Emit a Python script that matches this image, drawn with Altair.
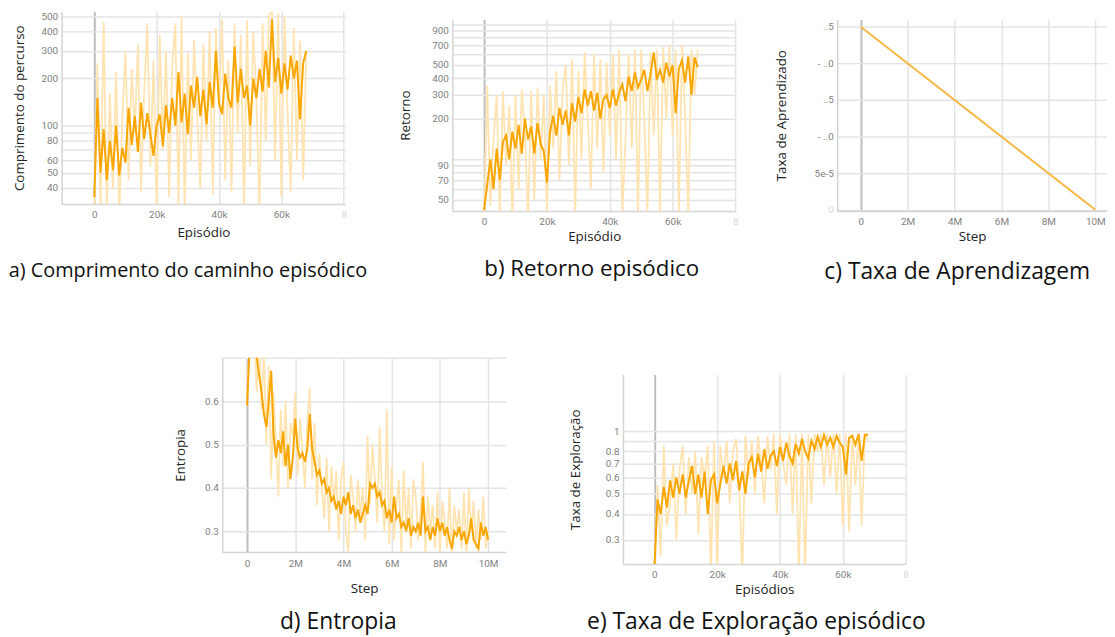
import altair as alt
import pandas as pd

# ---------------- data ----------------
EPISODES_K = [0, 1, 2, 3, 4, 5, 6, 7, 8, 9, 10, 11, 12, 13, 14, 15, 16, 17, 18, 19,
              20, 21, 22, 23, 24, 25, 26, 27, 28, 29, 30, 31, 32, 33, 34, 35, 36, 37, 38, 39,
              40, 41, 42, 43, 44, 45, 46, 47, 48, 49, 50, 51, 52, 53, 54, 55, 56, 57, 58, 59,
              60, 61, 62, 63, 64, 65, 66, 67, 68]

A_SMOOTH = [35, 150, 50, 95, 45, 80, 52, 100, 48, 72,
            58, 130, 75, 115, 68, 140, 82, 120, 88, 64,
            100, 118, 74, 135, 90, 150, 100, 220, 105, 160,
            88, 180, 130, 205, 115, 170, 102, 190, 130, 300,
            140, 118, 215, 150, 130, 320, 140, 230, 150, 180,
            100, 200, 150, 230, 165, 300, 175, 480, 190, 270,
            160, 250, 170, 280, 200, 260, 110, 250, 300]
A_RAW = [25, 250, 30, 460, 28, 160, 40, 220, 26, 110,
         300, 45, 230, 90, 330, 38, 160, 450, 55, 260,
         28, 380, 70, 300, 35, 240, 450, 30, 500, 28,
         290, 60, 350, 120, 40, 330, 80, 400, 36, 420,
         130, 480, 45, 260, 38, 450, 90, 380, 28, 470,
         55, 400, 150, 28, 450, 80, 500, 550, 60, 520,
         35, 500, 120, 38, 420, 60, 350, 45, 300]

B_SMOOTH = [42, 65, 100, 60, 120, 70, 135, 150, 100, 160,
            120, 180, 110, 200, 140, 175, 110, 185, 130, 115,
            67, 160, 210, 150, 240, 180, 230, 150, 260, 190,
            290, 220, 330, 250, 320, 230, 310, 200, 280, 300,
            240, 330, 250, 310, 360, 270, 410, 320, 440, 340,
            390, 460, 320, 430, 620, 390, 460, 370, 520, 410,
            500, 220, 470, 540, 370, 580, 300, 570, 480]
B_RAW = [35, 350, 45, 140, 300, 38, 320, 90, 250, 35,
         300, 60, 330, 150, 35, 320, 50, 340, 100, 300,
         38, 350, 120, 450, 70, 330, 500, 90, 550, 38,
         450, 100, 620, 200, 60, 600, 120, 550, 80, 520,
         150, 600, 100, 650, 38, 140, 600, 120, 650, 38,
         650, 200, 38, 620, 150, 650, 38, 680, 200, 700,
         150, 650, 38, 700, 200, 38, 650, 300, 650]

LR_STEP_M = [0, 10]
LR_VALUE = [0.00025, 0.0]

STEPS_M = [0.0, 0.1, 0.2, 0.3, 0.4, 0.5, 0.6, 0.7, 0.8, 0.9,
           1.0, 1.1, 1.2, 1.3, 1.4, 1.5, 1.6, 1.7, 1.8, 1.9,
           2.0, 2.1, 2.2, 2.3, 2.4, 2.5, 2.6, 2.7, 2.8, 2.9,
           3.0, 3.1, 3.2, 3.3, 3.4, 3.5, 3.6, 3.7, 3.8, 3.9,
           4.0, 4.1, 4.2, 4.3, 4.4, 4.5, 4.6, 4.7, 4.8, 4.9,
           5.0, 5.1, 5.2, 5.3, 5.4, 5.5, 5.6, 5.7, 5.8, 5.9,
           6.0, 6.1, 6.2, 6.3, 6.4, 6.5, 6.6, 6.7, 6.8, 6.9,
           7.0, 7.1, 7.2, 7.3, 7.4, 7.5, 7.6, 7.7, 7.8, 7.9,
           8.0, 8.1, 8.2, 8.3, 8.4, 8.5, 8.6, 8.7, 8.8, 8.9,
           9.0, 9.1, 9.2, 9.3, 9.4, 9.5, 9.6, 9.7, 9.8, 9.9,
           10.0]
D_SMOOTH = [0.59, 0.72, 0.75, 0.73, 0.70, 0.66, 0.62, 0.57, 0.54, 0.60,
            0.67, 0.52, 0.47, 0.51, 0.48, 0.53, 0.45, 0.50, 0.42, 0.47,
            0.56, 0.49, 0.47, 0.48, 0.46, 0.49, 0.57, 0.49, 0.46, 0.43,
            0.44, 0.41, 0.42, 0.39, 0.40, 0.37, 0.38, 0.35, 0.37, 0.34,
            0.38, 0.36, 0.39, 0.34, 0.36, 0.33, 0.35, 0.32, 0.34, 0.36,
            0.34, 0.41, 0.40, 0.41, 0.38, 0.39, 0.36, 0.37, 0.33, 0.35,
            0.32, 0.38, 0.33, 0.34, 0.31, 0.32, 0.30, 0.33, 0.29, 0.31,
            0.30, 0.32, 0.29, 0.38, 0.30, 0.31, 0.28, 0.31, 0.29, 0.33,
            0.30, 0.32, 0.29, 0.31, 0.28, 0.26, 0.30, 0.29, 0.31, 0.28,
            0.30, 0.27, 0.29, 0.33, 0.28, 0.27, 0.26, 0.32, 0.29, 0.31,
            0.28]
D_RAW = [0.60, 0.75, 0.72, 0.76, 0.62, 0.75, 0.58, 0.72, 0.50, 0.68,
         0.42, 0.62, 0.50, 0.38, 0.58, 0.45, 0.60, 0.40, 0.55, 0.52,
         0.62, 0.43, 0.56, 0.48, 0.40, 0.55, 0.63, 0.42, 0.55, 0.36,
         0.48, 0.40, 0.33, 0.47, 0.30, 0.45, 0.36, 0.44, 0.28, 0.42,
         0.46, 0.30, 0.25, 0.43, 0.38, 0.30, 0.42, 0.33, 0.40, 0.28,
         0.52, 0.36, 0.50, 0.42, 0.32, 0.54, 0.38, 0.30, 0.58, 0.27,
         0.45, 0.28, 0.36, 0.42, 0.25, 0.44, 0.30, 0.40, 0.26, 0.42,
         0.38, 0.28, 0.34, 0.46, 0.25, 0.38, 0.30, 0.36, 0.26, 0.39,
         0.25, 0.37, 0.32, 0.26, 0.40, 0.24, 0.36, 0.30, 0.35, 0.26,
         0.39, 0.24, 0.40, 0.30, 0.37, 0.26, 0.35, 0.28, 0.38, 0.26,
         0.30]

E_SMOOTH = [0.22, 0.47, 0.40, 0.54, 0.43, 0.58, 0.48, 0.60, 0.50, 0.62,
            0.48, 0.58, 0.68, 0.50, 0.62, 0.48, 0.64, 0.40, 0.58, 0.62,
            0.45, 0.56, 0.68, 0.56, 0.70, 0.58, 0.72, 0.52, 0.64, 0.50,
            0.70, 0.75, 0.60, 0.78, 0.64, 0.82, 0.66, 0.76, 0.80, 0.68,
            0.84, 0.72, 0.88, 0.76, 0.70, 0.87, 0.78, 0.92, 0.80, 0.74,
            0.90, 0.82, 0.94, 0.84, 0.96, 0.86, 0.93, 0.84, 0.95, 0.88,
            0.84, 0.62, 0.93, 0.95, 0.86, 0.97, 0.72, 0.96, 0.96]
E_RAW = [0.20, 0.55, 0.25, 0.85, 0.35, 0.45, 0.70, 0.30, 0.65, 0.85,
         0.40, 0.75, 0.50, 0.80, 0.32, 0.75, 0.60, 0.85, 0.20, 0.90,
         0.22, 0.85, 0.60, 0.90, 0.45, 0.80, 0.92, 0.55, 0.20, 0.95,
         0.60, 0.90, 0.50, 0.95, 0.70, 0.45, 0.95, 0.65, 0.97, 0.40,
         0.97, 0.70, 0.55, 0.97, 0.40, 0.97, 0.20, 0.97, 0.20, 0.97,
         0.45, 0.97, 0.80, 0.97, 0.55, 0.97, 0.60, 0.97, 0.50, 0.97,
         0.35, 0.97, 0.33, 0.97, 0.55, 0.97, 0.35, 0.97, 0.90]

CAPTIONS = ["a) Comprimento do caminho episódico", "b) Retorno episódico",
            "c) Taxa de Aprendizagem", "d) Entropia", "e) Taxa de Exploração episódico"]

# ---------------- styling ----------------
DARK = "#f9a602"
PALE = "#ffe4b2"
LR_COLOR = "#f7b744"
GRID = "#e4e4e4"
ZERO = "#bdbdbd"
LABEL = "#808080"

grid_color = {"condition": {"test": "datum.value == 0", "value": ZERO}, "value": GRID}
grid_width = {"condition": {"test": "datum.value == 0", "value": 2}, "value": 1.5}


def x_axis(ticks, expr, title_pad):
    return alt.Axis(values=ticks, labelExpr=expr, gridColor=grid_color, gridWidth=grid_width,
                    titlePadding=title_pad, labelPadding=6,
                    labelColor={"condition": {"test": "datum.value >= 80", "value": "#d8d8d8"},
                                "value": LABEL})


def y_axis(ticks, shown, title_pad):
    expr = "indexof(%s, datum.value) >= 0 ? format(datum.value, '~g') : ''" % (
        "[" + ",".join(repr(v) for v in shown) + "]")
    return alt.Axis(values=ticks, labelExpr=expr, titlePadding=title_pad)


def caption(text, dx, off, size):
    return alt.TitleParams(text=text, orient="bottom", anchor="middle", frame="group",
                           fontSize=size, font="Open Sans", fontWeight="normal", color="#111",
                           offset=off, dx=dx)


def noisy_panel(xs, smooth, raw, x_dom, x_ticks, x_expr, y_scale, y_ticks, y_shown,
                w, h, x_title, y_title, x_tpad, y_tpad, cap):
    x_enc = alt.X("x:Q", scale=alt.Scale(domain=x_dom, nice=False, zero=False),
                  title=x_title, axis=x_axis(x_ticks, x_expr, x_tpad))
    y_enc = alt.Y("v:Q", scale=y_scale, title=y_title, axis=y_axis(y_ticks, y_shown, y_tpad))
    raw_layer = alt.Chart(pd.DataFrame({"x": xs, "v": raw})).mark_line(
        color=PALE, strokeWidth=1.8, clip=True).encode(x=x_enc, y=y_enc)
    sm_layer = alt.Chart(pd.DataFrame({"x": xs, "v": smooth})).mark_line(
        color=DARK, strokeWidth=2, clip=True).encode(x=x_enc, y=y_enc)
    return alt.layer(raw_layer, sm_layer, title=cap).properties(width=w, height=h)


def spacer(w, h):
    return alt.Chart(pd.DataFrame({"s": [0]})).mark_point(opacity=0).encode(
        x=alt.X("s:Q", axis=None), y=alt.Y("s:Q", axis=None)).properties(width=w, height=h)


K_EXPR = "datum.value == 0 ? '0' : datum.value >= 80 ? '8' : datum.value + 'k'"
M_EXPR = "datum.value == 0 ? '0' : datum.value + 'M'"

panel_a = noisy_panel(
    EPISODES_K, A_SMOOTH, A_RAW, [-10.5, 80.5], [0, 20, 40, 60, 80], K_EXPR,
    alt.Scale(type="log", domain=[31.6, 535], nice=False),
    [40, 50, 60, 70, 80, 90, 100, 200, 300, 400, 500], [40, 50, 60, 80, 100, 200, 300, 400, 500],
    286, 194, "Episódio", "Comprimento do percurso", 6, 15,
    caption(CAPTIONS[0], -15.5, 22, 20))

panel_b = noisy_panel(
    EPISODES_K, B_SMOOTH, B_RAW, [-10.1, 80.2], [0, 20, 40, 60, 80], K_EXPR,
    alt.Scale(type="log", domain=[41.4, 1087], nice=False),
    [50, 60, 70, 80, 90, 100, 200, 300, 400, 500, 600, 700, 800, 900, 1000],
    [50, 70, 90, 200, 300, 400, 500, 700, 900],
    286, 193, "Episódio", "Retorno", 3, 19,
    caption(CAPTIONS[1], -2.5, 15, 22.5))

lr_x = alt.X("x:Q", scale=alt.Scale(domain=[-1.0, 10.5], nice=False, zero=False), title="Step",
             axis=x_axis([0, 2, 4, 6, 8, 10], M_EXPR, 3))
lr_y = alt.Y("v:Q", scale=alt.Scale(domain=[-0.0000015, 0.00026], nice=False, zero=False),
             title="Taxa de Aprendizado",
             axis=alt.Axis(values=[0, 0.00005, 0.0001, 0.00015, 0.0002, 0.00025], titlePadding=24,
                           labelExpr="round(datum.value*1e5) == 0 ? '0' : round(datum.value*1e5) == 5 ? '5e-5' : round(datum.value*1e5) % 10 == 0 ? '-   ..0' : '..5'",
                           labelColor={"condition": {"test": "datum.value == 0", "value": "#d8d8d8"},
                                       "value": LABEL}))
panel_c = alt.Chart(pd.DataFrame({"x": LR_STEP_M, "v": LR_VALUE})).mark_line(
    color=LR_COLOR, strokeWidth=2, clip=True).encode(x=lr_x, y=lr_y).properties(
    width=272, height=193, title=caption(CAPTIONS[2], -15, 18, 23))

panel_d = noisy_panel(
    STEPS_M, D_SMOOTH, D_RAW, [-1.03, 10.74], [0, 2, 4, 6, 8, 10], M_EXPR,
    alt.Scale(domain=[0.252, 0.7], nice=False, zero=False),
    [0.3, 0.4, 0.5, 0.6, 0.7], [0.3, 0.4, 0.5, 0.6],
    286, 196, "Step", "Entropia", 14, 17,
    caption(CAPTIONS[3], -26, 16, 23))

panel_e = noisy_panel(
    EPISODES_K, E_SMOOTH, E_RAW, [-10.0, 80.0], [0, 20, 40, 60, 80], K_EXPR,
    alt.Scale(type="log", domain=[0.23, 1.87], nice=False),
    [0.3, 0.4, 0.5, 0.6, 0.7, 0.8, 0.9, 1], [0.3, 0.4, 0.5, 0.6, 0.7, 0.8, 1],
    285, 191, "Episódios", "Taxa de Exploração", 3, 23,
    caption(CAPTIONS[4], -8, 15, 23))

row1 = alt.hconcat(
    panel_a,
    alt.vconcat(spacer(1, 8), alt.hconcat(panel_b, panel_c, spacing=102, bounds="flush"),
                spacing=0, bounds="flush"),
    spacing=108, bounds="flush")

row2 = alt.hconcat(
    spacer(44, 10),
    panel_d,
    alt.vconcat(spacer(1, 17), panel_e, spacing=0, bounds="flush"),
    spacing=118, bounds="flush")

chart = alt.vconcat(row1, row2, spacing=69).properties(padding=0).configure_view(
    stroke=None).configure_axis(
    domainColor="#d4d4d4", domainWidth=1.5, ticks=False,
    labelFont="Roboto", labelFontSize=10, labelColor=LABEL, labelPadding=4,
    labelOverlap=False, labelFlush=False,
    titleFont="Open Sans", titleFontSize=13.5, titleFontWeight="normal", titleColor="#222",
    gridColor=GRID, gridWidth=1.5)

chart.save("out.html", embed_options={"renderer": "svg", "actions": False})
